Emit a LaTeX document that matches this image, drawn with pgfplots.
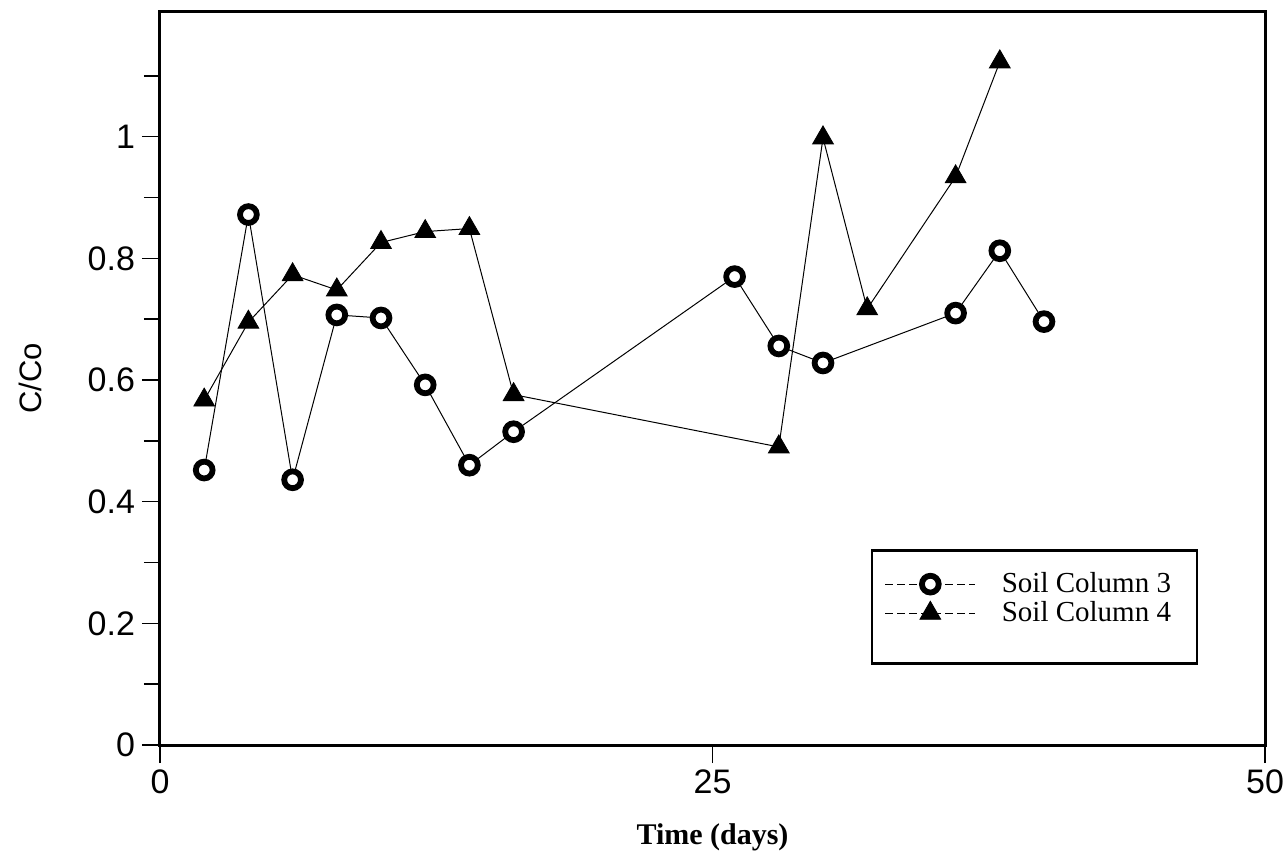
\documentclass[border=0pt]{standalone}
\usepackage{fontspec}
\setmainfont{Liberation Serif}
\newfontfamily\arial{Liberation Sans}
\usepackage{pgfplots}
\pgfplotsset{compat=1.18}
\begin{document}
\begin{tikzpicture}
\begin{axis}[
  name=ax,
  scale only axis, width=552.5pt, height=366.5pt,
  xmin=0, xmax=50, ymin=0, ymax=1.205,
  xtick={0,25,50}, ytick={0,0.2,0.4,0.6,0.8,1},
  minor ytick={0.1,0.3,0.5,0.7,0.9,1.1},
  tick align=outside, tick pos=left,
  major tick length=9pt, minor tick length=8pt,
  axis line style={line width=1.5pt},
  every tick/.style={line width=0.8pt, black},
  ticklabel style={font=\arial\fontsize{17}{20}\selectfont},
  /pgf/number format/assume math mode=true,
  xlabel={\bfseries Time (days)},
  xlabel style={font=\fontsize{15}{18}\selectfont, at={(axis description cs:0.5,0)}, anchor=center, yshift=-46pt},
  ylabel={\arial C/Co},
  ylabel style={font=\fontsize{15.5}{18}\selectfont, at={(axis description cs:-0.1176,0.5)}, anchor=center},
  legend style={at={(rel axis cs:0.643,0.267)}, anchor=north west,
    draw=black, line width=1.3pt, font=\fontsize{14.5}{17}\selectfont,
    inner xsep=6.5pt, inner ysep=9pt, row sep=-1pt,
    /tikz/every even column/.append style={column sep=18.5pt}},
  legend cell align=left,
  legend image code/.code={
    \draw[line width=0.5pt, dash pattern=on 4pt off 2pt, mark repeat=2, mark phase=2]
      plot coordinates {(0pt,0pt) (22.5pt,0pt) (45pt,0pt)};
  },
]
\addplot[black, line width=0.5pt, mark=*, mark size=4.2pt,
  mark options={solid, fill=white, draw=black, line width=2.9pt}]
  coordinates {
  (2,0.452) (4,0.872) (6,0.436) (8,0.707) (10,0.702) (12,0.592) (14,0.46)
  (16,0.515) (26,0.77) (28,0.656) (30,0.628) (36,0.71) (38,0.8125) (40,0.696)
  };
\addlegendentry{\hspace{11pt}Soil Column 3}
\addplot[black, line width=0.5pt, mark=triangle*, mark size=6pt,
  mark options={solid, fill=black, draw=black, line width=0.4pt}]
  coordinates {
  (2,0.567) (4,0.695) (6,0.773) (8,0.748) (10,0.826) (12,0.844) (14,0.849)
  (16,0.576) (28,0.49) (30,0.998) (32,0.717) (36,0.934) (38,1.123)
  };
\addlegendentry{\hspace{11pt}Soil Column 4}
\addlegendimage{legend image code/.code={\path[draw=none,fill=none] (0pt,2pt) rectangle (1pt,-6.5pt);}}
\addlegendentry{\rule{100pt}{0pt}}
\end{axis}
\pgfresetboundingbox
\path ([shift={(-80pt,-56pt)}]ax.south west) rectangle ([shift={(11pt,6pt)}]ax.north east);
\end{tikzpicture}
\end{document}
